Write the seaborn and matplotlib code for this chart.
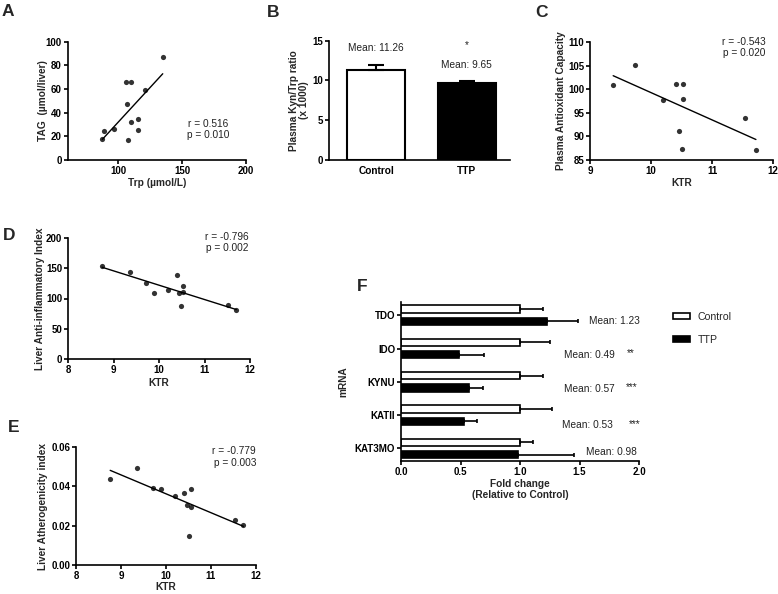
import matplotlib
matplotlib.use("Agg")
import matplotlib.pyplot as plt
import numpy as np
import pandas as pd
import seaborn as sns

# ---- data ----
# A: plasma Trp vs liver TAG
trp = [87.4, 89.0, 96.8, 105.8, 109.5, 106.3, 107.6, 110.0, 115.0, 115.0, 121.0, 134.7]
tag = [17.5, 24.5, 26.5, 66.0, 66.0, 47.0, 16.6, 32.0, 35.0, 25.0, 59.0, 87.0]

# B: plasma Kyn/Trp ratio
groups = ["Control", "TTP"]
kyn_trp_mean = [11.26, 9.65]
kyn_trp_sem = [0.65, 0.30]

# C: KTR vs plasma antioxidant capacity
ktr_c = [9.38, 9.73, 10.20, 10.41, 10.53, 10.53, 10.46, 10.50, 11.54, 11.72]
antiox = [100.9, 105.2, 97.8, 101.1, 101.2, 98.0, 91.2, 87.4, 94.0, 87.1]

# D: KTR vs liver anti-inflammatory index
ktr_d = [8.75, 9.36, 9.71, 9.88, 10.19, 10.39, 10.45, 10.52, 10.52, 10.49, 11.51, 11.70]
anti_inf = [154, 144, 126, 108.5, 114.6, 139, 109, 120, 110.7, 87, 88.7, 80.4]

# E: KTR vs liver atherogenicity index
ktr_e = [8.76, 9.36, 9.72, 9.89, 10.21, 10.40, 10.55, 10.47, 10.55, 10.51, 11.53, 11.72]
athero = [0.0436, 0.0495, 0.0394, 0.0384, 0.0352, 0.0367, 0.0385, 0.0304, 0.0296,
          0.0149, 0.0228, 0.0201]

# F: liver mRNA fold change
genes = ["TDO", "IDO", "KYNU", "KATII", "KAT3MO"]
ctrl_fold = [1.0, 1.0, 1.0, 1.0, 1.0]
ctrl_err = [0.19, 0.255, 0.19, 0.27, 0.11]
ttp_fold = [1.23, 0.49, 0.57, 0.53, 0.98]
ttp_err = [0.26, 0.205, 0.12, 0.11, 0.47]
stars = ["", "**", "***", "***", ""]

PALETTE = {"Control": "white", "TTP": "black"}
W, H = 778, 594

sns.set_style("ticks")
plt.rcParams["font.family"] = ["Liberation Sans", "DejaVu Sans"]
plt.rcParams["axes.linewidth"] = 1.2
plt.rcParams["xtick.major.width"] = 1.2
plt.rcParams["ytick.major.width"] = 1.2
plt.rcParams["xtick.major.size"] = 3
plt.rcParams["ytick.major.size"] = 3
plt.rcParams["xtick.major.pad"] = 1.2
plt.rcParams["ytick.major.pad"] = 1.2

TICK_FS = 7.0
LAB_FS = 7.3
ANN_FS = 7.3


def rect(l, t, r, b):
    return [l / W, 1 - b / H, (r - l) / W, (b - t) / H]


def style_axes(ax, ylab_x, xlab_y=None):
    sns.despine(ax=ax)
    for s in ["left", "bottom"]:
        ax.spines[s].set_color("black")
    ax.tick_params(colors="black", labelsize=TICK_FS)
    for lab in ax.get_xticklabels() + ax.get_yticklabels():
        lab.set_fontweight("bold")
    # place axis labels where the reference has them (label centre)
    ax.yaxis.set_label_coords(ylab_x, 0.5)
    ax.yaxis.label.set_va("center")
    if xlab_y is not None:
        ax.xaxis.set_label_coords(0.5, xlab_y)
        ax.xaxis.label.set_va("center")


def scatter_panel(ax, x, y, xlim, ylim, xticks, yticks, xlabel, ylabel,
                  stat, stat_xy, ylab_x, xlab_y, ha="right", yfmt=None):
    sns.regplot(x=np.array(x), y=np.array(y), ci=None, ax=ax,
                scatter_kws=dict(s=14, color="black", linewidths=0),
                line_kws=dict(color="black", lw=1.0))
    ax.set_xlim(*xlim)
    ax.set_ylim(*ylim)
    ax.set_xticks(xticks)
    ax.set_yticks(yticks)
    if yfmt:
        ax.set_yticklabels([yfmt.format(v) for v in yticks])
    ax.set_xlabel(xlabel, fontsize=LAB_FS, fontweight="bold")
    ax.set_ylabel(ylabel, fontsize=LAB_FS, fontweight="bold")
    ax.text(stat_xy[0], stat_xy[1], stat, transform=ax.transAxes, ha=ha,
            va="center", fontsize=ANN_FS, color="#222222", linespacing=1.15)
    style_axes(ax, ylab_x, xlab_y)


fig = plt.figure(figsize=(7.78, 5.94), dpi=100)

# ---- A ----
axA = fig.add_axes(rect(67.5, 41.7, 246, 160))
scatter_panel(axA, trp, tag, (60, 200), (0, 100), [100, 150, 200],
              [0, 20, 40, 60, 80, 100], "Trp (\u00b5mol/L)", "TAG  (\u00b5mol/liver)",
              "r = 0.516\np = 0.010", (0.79, 0.26), -0.137, -0.192, ha="center")

# ---- B ----
axB = fig.add_axes(rect(329, 40.7, 510, 160))
sns.barplot(x=groups, y=kyn_trp_mean, hue=groups, palette=PALETTE,
            edgecolor="black", linewidth=1.5, width=0.64, legend=False,
            errorbar=None, ax=axB)
for bar, err in zip(axB.patches, kyn_trp_sem):
    axB.errorbar(bar.get_x() + bar.get_width() / 2, bar.get_height(),
                 yerr=[[0], [err]], fmt="none", ecolor="black",
                 elinewidth=1.5, capsize=6, capthick=1.5)
axB.set_xlim(-0.52, 1.48)
axB.set_ylim(0, 15)
axB.set_yticks([0, 5, 10, 15])
axB.set_xlabel("")
axB.set_ylabel("Plasma Kyn/Trp ratio\n(x 1000)", fontsize=LAB_FS,
               fontweight="bold", linespacing=1.1)
for i, m in enumerate(kyn_trp_mean):
    axB.text(i, m + (2.8 if i == 0 else 2.35), f"Mean: {m:.2f}", ha="center",
             va="center", fontsize=ANN_FS, color="#222222")
axB.text(1, 14.5, "*", ha="center", va="center", fontsize=ANN_FS, color="#222222")
style_axes(axB, -0.166)
axB.tick_params(axis="x", length=0, pad=4, labelsize=LAB_FS)

# ---- C ----
axC = fig.add_axes(rect(590, 42, 773, 160))
scatter_panel(axC, ktr_c, antiox, (9, 12), (85, 110), [9, 10, 11, 12],
              [85, 90, 95, 100, 105, 110], "KTR", "Plasma Antioxidant Capacity",
              "r = -0.543\np = 0.020", (0.96, 0.95), -0.16, -0.192)

# ---- D ----
axD = fig.add_axes(rect(68, 238, 250, 359))
scatter_panel(axD, ktr_d, anti_inf, (8, 12), (0, 200), [8, 9, 10, 11, 12],
              [0, 50, 100, 150, 200], "KTR", "Liver Anti-inflammatory Index",
              "r = -0.796\np = 0.002", (0.99, 0.96), -0.154, -0.196)

# ---- E ----
axE = fig.add_axes(rect(76, 447, 256, 565))
scatter_panel(axE, ktr_e, athero, (8, 12), (0, 0.06), [8, 9, 10, 11, 12],
              [0, 0.02, 0.04, 0.06], "KTR", "Liver Atherogenicity index",
              "r = -0.779\np = 0.003", (1.0, 0.915), -0.183, -0.19, yfmt="{:.2f}")

# ---- F ----
axF = fig.add_axes(rect(401, 302, 639, 461))
df_f = pd.DataFrame({
    "gene": genes * 2,
    "group": ["Control"] * len(genes) + ["TTP"] * len(genes),
    "fold": ctrl_fold + ttp_fold,
})
sns.barplot(data=df_f, y="gene", x="fold", hue="group", palette=PALETTE,
            edgecolor="black", linewidth=1.2, width=0.74, gap=0.4,
            orient="h", errorbar=None, ax=axF)
for cont, errs in zip(axF.containers, [ctrl_err, ttp_err]):
    for bar, err in zip(cont, errs):
        axF.errorbar(bar.get_width(), bar.get_y() + bar.get_height() / 2,
                     xerr=[[0], [err]], fmt="none", ecolor="black",
                     elinewidth=1.2, capsize=1.6, capthick=1.2)
axF.set_xlim(0, 2)
axF.set_ylim(4.38, -0.4)
axF.set_xticks([0, 0.5, 1.0, 1.5, 2.0])
axF.set_xticklabels(["0.0", "0.5", "1.0", "1.5", "2.0"])
axF.set_xlabel("Fold change\n(Relative to Control)", fontsize=LAB_FS,
               fontweight="bold", linespacing=1.1)
axF.set_ylabel("mRNA", fontsize=LAB_FS, fontweight="bold")
mean_x = [1.79, 1.58, 1.58, 1.57, 1.77]
mean_dy = [0.18, 0.19, 0.21, 0.31, 0.1]
star_x = [0, 1.93, 1.94, 1.96, 0]
for i, g in enumerate(genes):
    axF.text(mean_x[i], i + mean_dy[i], f"Mean: {ttp_fold[i]:.2f}", ha="center",
             va="center", fontsize=ANN_FS, color="#222222")
    if stars[i]:
        axF.text(star_x[i], i + mean_dy[i] - 0.05, stars[i], ha="center",
                 va="center", fontsize=ANN_FS, color="#222222")
style_axes(axF, -0.244, -0.18)
sns.move_legend(axF, "upper left", bbox_to_anchor=(663 / W, 1 - 302 / H),
                bbox_transform=fig.transFigure, frameon=False, title=None,
                fontsize=7.6, handlelength=1.7, handleheight=0.45,
                labelspacing=1.25, handletextpad=0.7)

# ---- panel letters ----
for letter, (px, py) in {"A": (2, 4), "B": (267, 5), "C": (535, 5),
                         "D": (3, 228), "E": (8, 420), "F": (357, 279)}.items():
    fig.text(px / W, 1 - py / H, letter, ha="left", va="top",
             fontsize=12.5, fontweight="bold")

fig.savefig("out.png", dpi=100)
